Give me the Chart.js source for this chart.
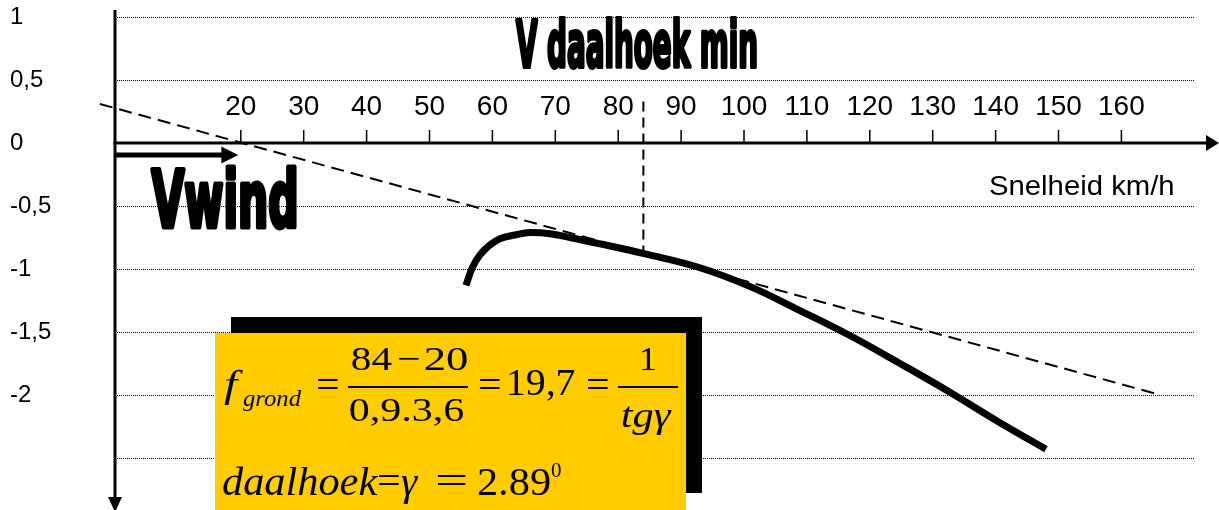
<!DOCTYPE html>
<html><head><meta charset="utf-8">
<script src="https://cdn.jsdelivr.net/npm/chart.js@4.4.1/dist/chart.umd.min.js"></script>
<style>html,body{margin:0;padding:0;background:#fff;overflow:hidden}#wrap{width:1219px;height:510px;position:relative}</style>
</head><body><div id="wrap"><canvas id="c" width="1219" height="510"></canvas></div>
<script>
// ---- data ----
const polarSpeed = [55.8, 56.8, 58.0, 59.6, 61.2, 63.6, 66.0, 69.2, 72.3, 77.1, 84.3, 93.0, 101.0, 108.9, 116.9, 124.8, 132.8, 140.7, 148.0];
const polarSink  = [-1.13, -0.99, -0.89, -0.81, -0.76, -0.73, -0.71, -0.72, -0.75, -0.80, -0.88, -0.99, -1.14, -1.33, -1.53, -1.75, -1.98, -2.22, -2.43];
const tangentSpeed = [-2.4, 165.5];
const tangentSink  = [0.31, -1.99];
const minAngleSpeed = [84, 84];
const minAngleSink  = [0.33, -0.89];
const windSpeed = [0, 19.6];
const windSink  = [-0.095, -0.095];
const xTickValues = [20, 30, 40, 50, 60, 70, 80, 90, 100, 110, 120, 130, 140, 150, 160];
const xTickLabels = ['20', '30', '40', '50', '60', '70', '80', '90', '100', '110', '120', '130', '140', '150', '160'];
const yTickValues = [1, 0.5, 0, -0.5, -1, -1.5, -2, -2.5];
const yTickLabels = ['1', '0,5', '0', '-0,5', '-1', '-1,5', '-2', ''];
const xAxisTitle = 'Snelheid km/h';
const titleText = 'V daalhoek min';
const windText = 'Vwind';

const SANS = '"Liberation Sans", Arial, sans-serif';
const SERIF = '"Liberation Serif", "Times New Roman", serif';
const HEAVY = '"Liberation Sans Narrow", "DejaVu Sans Condensed", "Liberation Sans", sans-serif';
Chart.defaults.font.family = SANS;

function pts(xs, ys) { return xs.map((v, i) => ({x: v, y: ys[i]})); }

function fitText(ctx, str, left, base, font, width, strokeW) {
  strokeW = strokeW || 0;
  ctx.save();
  ctx.font = font;
  ctx.textAlign = 'left';
  ctx.textBaseline = 'alphabetic';
  const m = ctx.measureText(str);
  const ink = m.actualBoundingBoxLeft + m.actualBoundingBoxRight + strokeW;
  const sx = width / ink;
  ctx.translate(left, base);
  ctx.scale(sx, 1);
  const ox = m.actualBoundingBoxLeft + strokeW / 2;
  if (strokeW) { ctx.lineWidth = strokeW; ctx.lineJoin = 'round'; ctx.strokeText(str, ox, 0); }
  ctx.fillText(str, ox, 0);
  ctx.restore();
}

const decor = {
  id: 'decor',
  beforeDatasetsDraw(chart) {
    const {ctx, scales: {x, y}} = chart;
    const x0 = x.getPixelForValue(0), y0 = y.getPixelForValue(0);
    ctx.save();
    ctx.fillStyle = '#000'; ctx.strokeStyle = '#000';
    // horizontal axis with arrow
    ctx.lineWidth = 3;
    ctx.beginPath(); ctx.moveTo(x0 - 1.5, y0); ctx.lineTo(1208, y0); ctx.stroke();
    ctx.beginPath(); ctx.moveTo(1219, y0); ctx.lineTo(1206, y0 - 8); ctx.lineTo(1206, y0 + 8); ctx.closePath(); ctx.fill();
    // vertical axis with arrow
    ctx.beginPath(); ctx.moveTo(x0, 10); ctx.lineTo(x0, 500); ctx.stroke();
    ctx.beginPath(); ctx.moveTo(x0, 512); ctx.lineTo(x0 - 7, 497); ctx.lineTo(x0 + 7, 497); ctx.closePath(); ctx.fill();
    // tick marks above the axis
    ctx.lineWidth = 1.5;
    xTickValues.forEach(v => {
      const px = x.getPixelForValue(v);
      ctx.beginPath(); ctx.moveTo(px, y0 - 13); ctx.lineTo(px, y0); ctx.stroke();
    });
    // texts
    fitText(ctx, xAxisTitle, 990, 195, '28px ' + SANS, 183);
    fitText(ctx, titleText, 515, 67, 'bold 64px ' + HEAVY, 242, 4);
    fitText(ctx, windText, 150, 227, 'bold 78px ' + HEAVY, 147, 5);
    ctx.restore();
  },
  afterDatasetsDraw(chart) {
    const {ctx, scales: {x, y}} = chart;
    ctx.save();
    ctx.fillStyle = '#000'; ctx.strokeStyle = '#000';
    // wind arrow
    const wx0 = x.getPixelForValue(windSpeed[0]), wx1 = x.getPixelForValue(windSpeed[1]);
    const wy = y.getPixelForValue(windSink[0]);
    ctx.lineWidth = 5;
    ctx.beginPath(); ctx.moveTo(wx0, wy); ctx.lineTo(wx1 - 14, wy); ctx.stroke();
    ctx.beginPath(); ctx.moveTo(wx1, wy); ctx.lineTo(wx1 - 17, wy - 8.5); ctx.lineTo(wx1 - 17, wy + 8.5); ctx.closePath(); ctx.fill();

    // formula box
    ctx.fillStyle = '#000';
    ctx.fillRect(231, 317, 471, 176);
    ctx.fillStyle = '#FFCC00';
    ctx.fillRect(215, 333, 471, 177);
    ctx.fillStyle = '#000';
    const I = (s) => 'italic ' + s + 'px ' + SERIF;
    const N = (s) => s + 'px ' + SERIF;
    fitText(ctx, 'f', 224, 397, I(38), 19);
    fitText(ctx, 'grond', 243, 406, I(24), 59);
    fitText(ctx, '=', 317, 397, N(38), 21);
    fitText(ctx, '84', 352, 370, N(34), 40);
    fitText(ctx, '\u2212', 398, 370, N(34), 21);
    fitText(ctx, '20', 425, 370, N(34), 42);
    ctx.fillRect(348, 386, 120, 2);
    fitText(ctx, '0,9.3,6', 350, 421, N(34), 113);
    fitText(ctx, '=', 479, 397, N(38), 21);
    fitText(ctx, '19,7', 509, 395, N(37), 66);
    fitText(ctx, '=', 587, 397, N(38), 21);
    ctx.fillRect(618, 386, 60, 2);
    fitText(ctx, '1', 641, 370, N(34), 14);
    fitText(ctx, 'tg\u03b3', 622, 427, I(35), 50);
    fitText(ctx, 'daalhoek', 223, 495, I(41), 155);
    fitText(ctx, '=', 379, 494, N(40), 20);
    fitText(ctx, '\u03b3', 401, 495, I(41), 18);
    fitText(ctx, '=', 438, 494, N(40), 28);
    fitText(ctx, '2.89', 478, 495, N(40), 72);
    fitText(ctx, '0', 551, 477, N(21), 10);
    ctx.restore();
  }
};

new Chart(document.getElementById('c'), {
  type: 'scatter',
  data: {
    datasets: [
      {label: 'Polaire', data: pts(polarSpeed, polarSink), showLine: true, borderColor: '#000', backgroundColor: '#000',
       borderWidth: 7, pointRadius: 0, tension: 0.4, clip: false, borderCapStyle: 'butt', borderJoinStyle: 'round'},
      {label: 'Raaklijn', data: pts(tangentSpeed, tangentSink), showLine: true, borderColor: '#000',
       borderWidth: 2, borderDash: [13, 7], pointRadius: 0, clip: false},
      {label: 'V daalhoek min', data: pts(minAngleSpeed, minAngleSink), showLine: true, borderColor: '#000',
       borderWidth: 2, borderDash: [10, 6], pointRadius: 0, clip: false}
    ]
  },
  options: {
    responsive: false,
    animation: false,
    devicePixelRatio: 1,
    layout: {padding: {left: 10, right: 24, top: 17, bottom: 52}},
    plugins: {legend: {display: false}, tooltip: {enabled: false}, title: {display: false}},
    scales: {
      x: {
        type: 'linear', min: 0, max: 171.7, position: {y: 0},
        grid: {display: false, drawTicks: false},
        border: {display: false},
        afterBuildTicks: s => { s.ticks = xTickValues.map(v => ({value: v})); },
        ticks: {autoSkip: false, maxRotation: 0, minRotation: 0, padding: -53, color: '#000',
                font: {family: SANS, size: 28},
                callback: v => { const i = xTickValues.indexOf(v); return i < 0 ? '' : xTickLabels[i]; }}
      },
      y: {
        type: 'linear', min: -2.5, max: 1, position: 'left',
        afterFit: s => { s.width = 105; },
        afterBuildTicks: s => { s.ticks = yTickValues.map(v => ({value: v})); },
        grid: {color: '#000', lineWidth: 1, drawTicks: false},
        border: {display: false, dash: [1, 1]},
        ticks: {crossAlign: 'far', padding: 0, color: '#000', font: {family: SANS, size: 24},
                callback: v => { const i = yTickValues.indexOf(v); return i < 0 ? '' : yTickLabels[i]; }}
      }
    }
  },
  plugins: [decor]
});
</script>
</body></html>
